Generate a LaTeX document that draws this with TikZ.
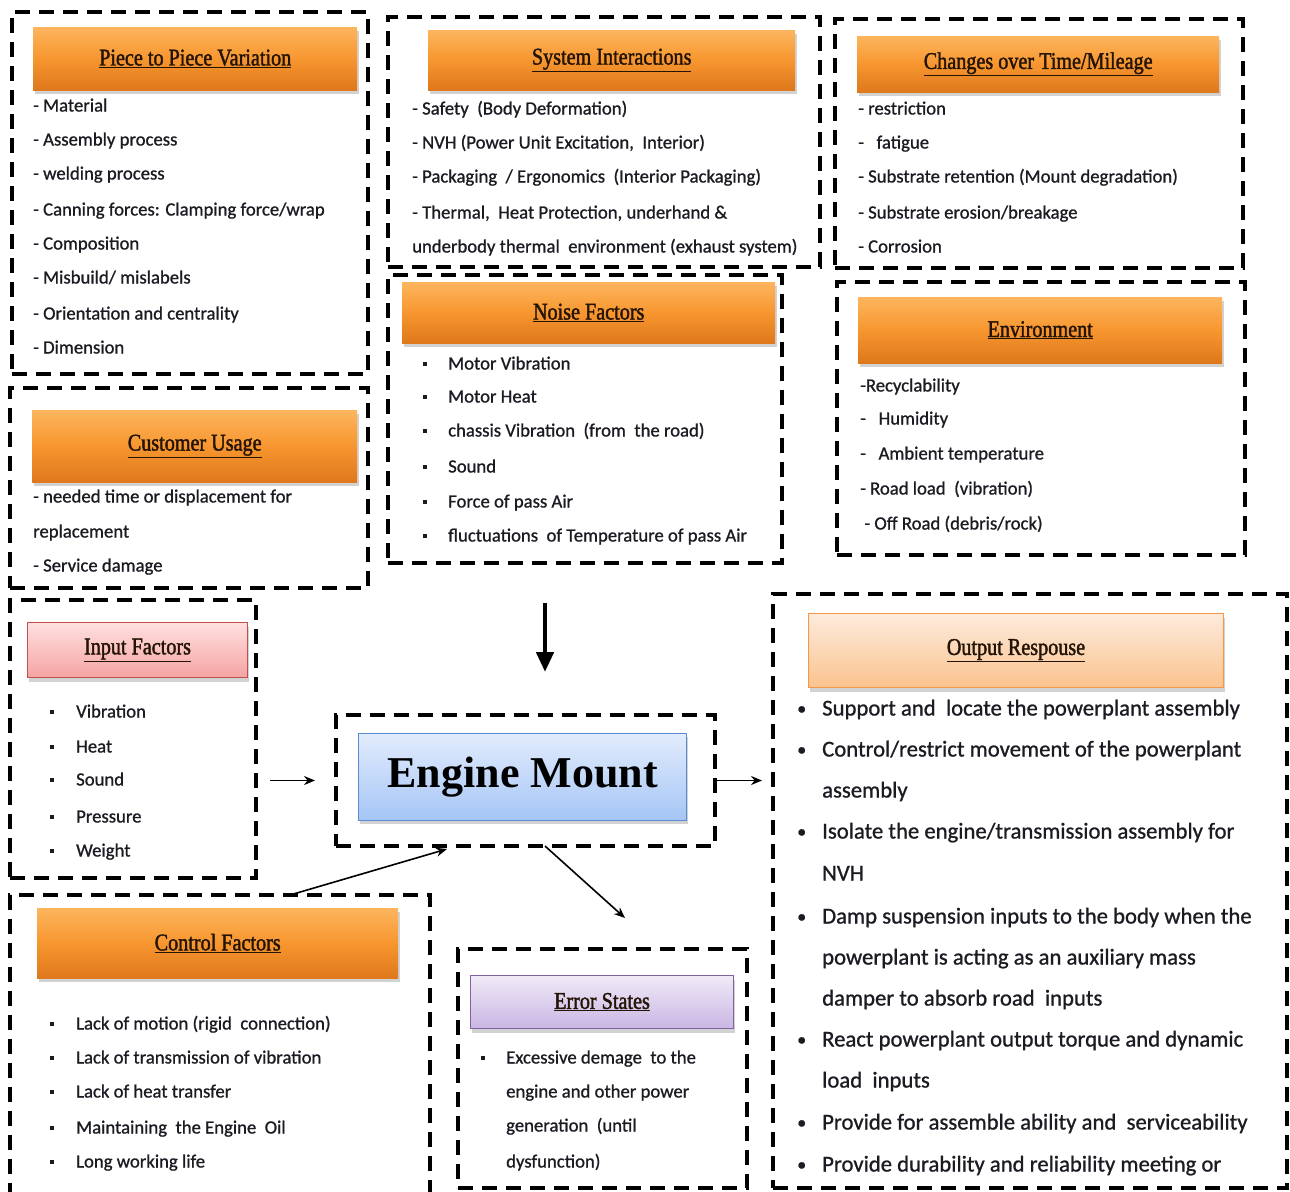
\documentclass[tikz,border=0pt]{standalone}
\usepackage{fontspec}
\setmainfont[FakeBold=0.9]{Carlito}
\newfontfamily\ttlfont[FakeStretch=0.84,FakeBold=1.6]{Liberation Serif}
\newfontfamily\emfont{Liberation Serif}
\usetikzlibrary{arrows.meta,shadows}
\definecolor{orT}{HTML}{FDB55E}
\definecolor{orM}{HTML}{F7962F}
\definecolor{orB}{HTML}{DE781C}
\definecolor{pkT}{HTML}{FFE0E0}
\definecolor{pkB}{HTML}{F5A3A3}
\definecolor{pkD}{HTML}{C0504D}
\definecolor{peT}{HTML}{FDEBDD}
\definecolor{peB}{HTML}{FBC38E}
\definecolor{peD}{HTML}{F79646}
\definecolor{lvT}{HTML}{F0EAF7}
\definecolor{lvB}{HTML}{C9B6E3}
\definecolor{lvD}{HTML}{8064A2}
\definecolor{blT}{HTML}{E2ECFD}
\definecolor{blB}{HTML}{A5C5F5}
\definecolor{blD}{HTML}{5B8BD0}
\definecolor{ink}{HTML}{1C1A22}
\definecolor{tink}{HTML}{241405}
\newcommand\sdot{\raisebox{3.5pt}{\rule{4pt}{4pt}}}
\newcommand\bl[2]{\makebox[#1][l]{\sdot}#2}
\newcommand\obl[2]{\makebox[#1][l]{\raisebox{1pt}{\scalebox{0.8}{\textbullet}}}#2}
\begin{document}
\begin{tikzpicture}[x=1pt,y=-1pt,
  dbox/.style={draw, line width=3.5pt, dash pattern=on 15pt off 9pt, inner sep=0, outer sep=0, anchor=north west},
  hdr/.style={anchor=north west, inner sep=0, top color=orT, bottom color=orB, middle color=orM,
    drop shadow={shadow xshift=1.5pt, shadow yshift=-4pt, opacity=0.35},
    text=tink, font=\ttlfont\fontsize{24}{28}\selectfont},
  txt/.style={anchor=west, inner sep=0, text=ink, font=\fontsize{18.7}{22}\selectfont, text height=13pt, text depth=4pt},
  otxt/.style={anchor=west, inner sep=0, text=ink, font=\fontsize{22.7}{26}\selectfont, text height=16pt, text depth=5pt},
  thinarr/.style={line width=1.6pt, -{Stealth[length=11pt,width=9pt]}},
  bigarr/.style={line width=4.5pt, -{Triangle[length=20pt,width=17pt]}}]
\useasboundingbox (0,0) rectangle (1290,1191);
\fill[white] (0,0) rectangle (1290,1191);

% dashed group boxes
\node[dbox, minimum width=356pt, minimum height=362pt] (bpv) at (12,12) {};
\node[dbox, minimum width=432pt, minimum height=250pt] (bsi) at (388,17) {};
\node[dbox, minimum width=408pt, minimum height=249pt] (bct) at (835,19) {};
\node[dbox, minimum width=394pt, minimum height=288pt] (bnf) at (388,275) {};
\node[dbox, minimum width=408pt, minimum height=273pt] (ben) at (837,282) {};
\node[dbox, minimum width=358pt, minimum height=200pt] (bcu) at (10,388) {};
\node[dbox, minimum width=246pt, minimum height=278pt] (inp) at (10,600) {};
\node[dbox, minimum width=379pt, minimum height=131pt] (emb) at (336,715) {};
\node[dbox, minimum width=514pt, minimum height=594pt] (out) at (773,594) {};
\node[dbox, minimum width=420pt, minimum height=312pt] (ctrl) at (10,895) {};
\node[dbox, minimum width=289pt, minimum height=239pt] (err) at (458,949) {};

% headers
\node[hdr, minimum width=324pt, minimum height=63pt] (hpv) at (33,27) {\underline{Piece to Piece Variation}};
\node[hdr, minimum width=367pt, minimum height=60pt] (hsi) at (428,30) {\underline{System Interactions}};
\node[hdr, minimum width=362pt, minimum height=56pt] (hct) at (857,36) {\underline{Changes over Time/Mileage}};
\node[hdr, minimum width=373pt, minimum height=61pt] (hnf) at (402,282) {\underline{Noise Factors}};
\node[hdr, minimum width=364pt, minimum height=66pt] (hen) at (858,297) {\underline{Environment}};
\node[hdr, minimum width=325pt, minimum height=72pt] (hcu) at (32,410) {\underline{Customer Usage}};
\node[hdr, minimum width=361pt, minimum height=70pt] (hcf) at (37,908) {\underline{Control Factors}};
\node[hdr, minimum width=220pt, minimum height=55pt, top color=pkT, bottom color=pkB, middle color=pkT!50!pkB, draw=pkD, line width=1pt] (hin) at (27,622) {\underline{Input Factors}};
\node[hdr, minimum width=415pt, minimum height=74pt, top color=peT, bottom color=peB, middle color=peT!50!peB, draw=peD, line width=1pt] (hout) at (808,613) {\underline{Output Respouse}};
\node[hdr, minimum width=263pt, minimum height=53pt, top color=lvT, bottom color=lvB, middle color=lvT!50!lvB, draw=lvD, line width=1pt] (her) at (470,975) {\underline{Error States}};

% engine mount
\node[anchor=north west, inner sep=0, minimum width=328pt, minimum height=87pt, top color=blT, bottom color=blB, draw=blD, line width=1.2pt,
  drop shadow={shadow xshift=1.5pt, shadow yshift=-3pt, opacity=0.35},
  font=\emfont\bfseries\fontsize{44}{50}\selectfont] (em) at (358,733) {Engine Mount};

% texts
\foreach \y/\t [count=\i] in {107/{- Material},141/{- Assembly process},175/{- welding process},211/{- Canning forces: Clamping force/wrap},245/{- Composition},279/{- Misbuild/ mislabels},315/{- Orientation and centrality},349/{- Dimension}}
  \node[txt] (tpv\i) at (33,\y) {\t};
\foreach \y/\t [count=\i] in {110/{- Safety~ (Body Deformation)},144/{- NVH (Power Unit Excitation,~ Interior)},178/{- Packaging~ / Ergonomics~ (Interior Packaging)},214/{- Thermal,~ Heat Protection, underhand \&},248/{underbody thermal~ environment (exhaust system)}}
  \node[txt] (tsi\i) at (412,\y) {\t};
\foreach \y/\t [count=\i] in {110/{- restriction},144/{-~~ fatigue},178/{- Substrate retention (Mount degradation)},214/{- Substrate erosion/breakage},248/{- Corrosion}}
  \node[txt] (tct\i) at (858,\y) {\t};
\foreach \y/\t [count=\i] in {365/{Motor Vibration},398/{Motor Heat},432/{chassis Vibration~ (from~ the road)},468/{Sound},503/{Force of pass Air},537/{fluctuations~ of Temperature of pass Air}}
  \node[txt] (tnf\i) at (423,\y) {\bl{25pt}{\t}};
\foreach \y/\t [count=\i] in {387/{-Recyclability},420/{-~~ Humidity},455/{-~~ Ambient temperature},490/{- Road load~ (vibration)},525/{~- Off Road (debris/rock)}}
  \node[txt] (ten\i) at (860,\y) {\t};
\foreach \y/\t [count=\i] in {498/{- needed time or displacement for},533/{replacement},567/{- Service damage}}
  \node[txt] (tcu\i) at (33,\y) {\t};
\foreach \y/\t [count=\i] in {713/{Vibration},748/{Heat},781/{Sound},818/{Pressure},852/{Weight}}
  \node[txt] (tin\i) at (50,\y) {\bl{26pt}{\t}};
\foreach \y/\t [count=\i] in {1025/{Lack of motion (rigid~ connection)},1059/{Lack of transmission of vibration},1093/{Lack of heat transfer},1129/{Maintaining~ the Engine~ Oil},1163/{Long working life}}
  \node[txt] (tcf\i) at (50,\y) {\bl{26pt}{\t}};
\foreach \y/\t [count=\i] in {1059/{\bl{25pt}{Excessive demage~ to the}},1093/{\hspace*{25pt}engine and other power},1127/{\hspace*{25pt}generation~ (until},1163/{\hspace*{25pt}dysfunction)}}
  \node[txt] (ter\i) at (481,\y) {\t};
\foreach \y/\t [count=\i] in {710/{\obl{25pt}{Support and~ locate the powerplant assembly}},751/{\obl{25pt}{Control/restrict movement of the powerplant}},792/{\hspace*{25pt}assembly},833/{\obl{25pt}{Isolate the engine/transmission assembly for}},875/{\hspace*{25pt}NVH},918/{\obl{25pt}{Damp suspension inputs to the body when the}},959/{\hspace*{25pt}powerplant is acting as an auxiliary mass},1000/{\hspace*{25pt}damper to absorb road~ inputs},1041/{\obl{25pt}{React powerplant output torque and dynamic}},1082/{\hspace*{25pt}load~ inputs},1124/{\obl{25pt}{Provide for assemble ability and~ serviceability}},1166/{\obl{25pt}{Provide durability and reliability meeting or}}}
  \node[otxt] (tout\i) at (797,\y) {\t};

% connectors
\coordinate (dtop) at (545,603);
\draw[bigarr] (dtop) -- ([xshift=19.5pt,yshift=43pt]emb.north);
\draw[thinarr] ([xshift=14pt]inp.east |- emb.west) -- ([xshift=-21pt]emb.west);
\draw[thinarr] (emb.east) -- ([xshift=-11pt]out.west |- emb.east);
\draw[thinarr] ([xshift=280pt]ctrl.north west) -- ([xshift=111pt,yshift=-3pt]emb.south west);
\draw[thinarr] ([xshift=209pt]emb.south west) -- ([xshift=167pt,yshift=31pt]err.north west);
\end{tikzpicture}
\end{document}
